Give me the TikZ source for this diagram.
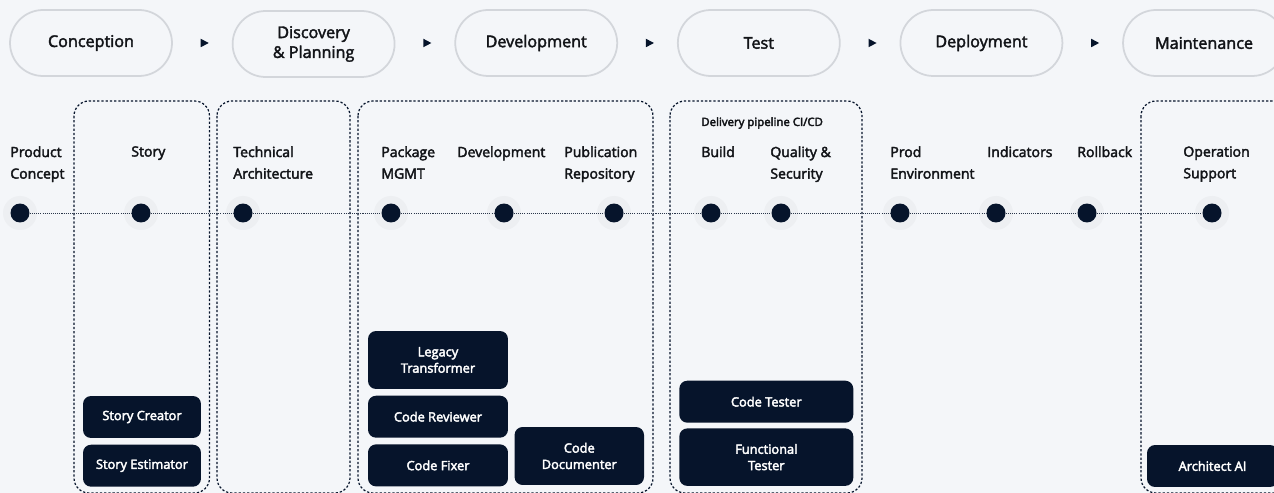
\documentclass[tikz,border=0pt]{standalone}
\usepackage{fontspec}
\setmainfont{Open Sans}
\usepackage{tikz}
\usetikzlibrary{shapes.geometric, positioning}

\definecolor{bg}{HTML}{F4F6F9}
\definecolor{rim}{HTML}{D3D6DB}
\definecolor{ink}{HTML}{06142B}
\definecolor{haze}{HTML}{EDEFF2}
\definecolor{txt}{HTML}{121418}

% slightly heavier strokes for the regular face
\tikzset{medium/.style={execute at begin node={\special{pdf:literal direct 2 Tr 0.22 w}}, execute at end node={\special{pdf:literal direct 0 Tr}}}}

\tikzstyle{stage} = [rectangle, rounded corners=0.66cm, draw=rim, line width=1pt, fill=bg, minimum width=3.24cm, minimum height=1.32cm, text centered, align=center, text=txt, medium, font=\fontsize{9.2}{11.3}\selectfont]
\tikzstyle{tri} = [isosceles triangle, isosceles triangle stretches, fill=ink, inner sep=0, minimum width=0.17cm, minimum height=0.16cm]
\tikzstyle{milestone} = [circle, fill=ink, inner sep=0, minimum size=0.38cm]
\tikzstyle{timeline} = [draw=ink!85, line width=0.5pt, dash pattern=on 0.6pt off 0.6pt]
\tikzstyle{steplabel} = [anchor=north west, inner sep=0, align=left, text=txt, medium, font=\fontsize{8}{12.3}\selectfont]
\tikzstyle{pipenote} = [anchor=west, inner sep=0, text=txt, medium, font=\fontsize{6.5}{8}\selectfont]
\tikzstyle{phasebox} = [draw=ink, line width=0.7pt, dash pattern=on 1.3pt off 1.1pt, rounded corners=0.3cm]
\tikzstyle{agent} = [rectangle, rounded corners=0.16cm, fill=ink, text=white, align=center, minimum height=0.84cm, medium, font=\fontsize{7.3}{9.3}\selectfont]

\begin{document}
\begin{tikzpicture}[x=0.02cm, y=-0.02cm, node distance=4.453cm]

        \useasboundingbox (0,0) rectangle (1274,493);
        \clip (0,0) rectangle (1274,493);
        \fill[bg] (0,0) rectangle (1274,493);

        % Phases
        \node (concep) [stage] at (91,43) {Conception};
        \node (discov) [stage, right of=concep, yshift=-0.02cm] {Discovery\\\& Planning};
        \node (devel) [stage, right of=concep, node distance=8.906cm] {Development};
        \node (test) [stage, right of=devel] {Test};
        \node (deploy) [stage, right of=test] {Deployment};
        \node (maint) [stage, right of=deploy] {Maintenance};

        % Markers between phases
        \node (a1) [tri, right of=concep, node distance=2.246cm] {};
        \node (a2) [tri, right of=a1] {};
        \node (a3) [tri, right of=a2] {};
        \node (a4) [tri, right of=a3] {};
        \node (a5) [tri, right of=a4] {};

        % Dotted groups
        \draw[phasebox] (74,101) rectangle (209.5,493);
        \draw[phasebox] (217,101) rectangle (350,493);
        \draw[phasebox] (358,101) rectangle (653,493);
        \draw[phasebox] (670,101) rectangle (862,493);
        \draw[phasebox] (1141,101) rectangle (1300,493);

        % Steps on the timeline
        \foreach \n/\x in {1/20, 2/141, 3/243, 4/391, 5/504, 6/614, 7/711, 8/781, 9/900, 10/996, 11/1087, 12/1212} {
            \fill[haze] (\x,213) circle [radius=17];
            \node (s\n) [milestone] at (\x,213) {};
        }
        \draw[timeline] (s1) -- (s2) -- (s3) -- (s4) -- (s5) -- (s6) -- (s7) -- (s8) -- (s9) -- (s10) -- (s11) -- (s12);

        % Step labels
        \node (lprod) [steplabel] at (10,146) {Product\\Concept};
        \node (lstory) [steplabel] at (131,146) {Story};
        \node (larch) [steplabel] at (233,146) {Technical\\Architecture};
        \node (lpack) [steplabel] at (381,146) {Package\\MGMT};
        \node (ldev) [steplabel] at (457,146) {Development};
        \node (lpub) [steplabel] at (564,146) {Publication\\Repository};
        \node (lbuild) [steplabel] at (701,146) {Build};
        \node (lqual) [steplabel] at (770,146) {Quality \&\\Security};
        \node (lenv) [steplabel] at (890,146) {Prod\\Environment};
        \node (lind) [steplabel] at (987,146) {Indicators};
        \node (lroll) [steplabel] at (1077,146) {Rollback};
        \node (lops) [steplabel] at (1183,146) {Operation\\Support};
        \node (cicd) [pipenote] at (701,123) {Delivery pipeline CI/CD};

        % Agents
        \node (screator) [agent, minimum width=2.36cm] at (142,417) {Story Creator};
        \node (sestim) [agent, minimum width=2.36cm, below=0.12cm of screator] {Story Estimator};
        \node (legacy) [agent, minimum width=2.8cm, minimum height=1.16cm] at (438,360) {Legacy\\Transformer};
        \node (review) [agent, minimum width=2.8cm, below=0.12cm of legacy] {Code Reviewer};
        \node (fixer) [agent, minimum width=2.8cm, below=0.12cm of review] {Code Fixer};
        \node (docu) [agent, minimum width=2.59cm, minimum height=1.16cm] at (579.3,456) {Code\\Documenter};
        \node (ctester) [agent, minimum width=3.48cm] at (766.3,401.7) {Code Tester};
        \node (ftester) [agent, minimum width=3.48cm, minimum height=1.15cm, below=0.1cm of ctester] {Functional\\Tester};
        \node (archai) [agent, minimum width=2.62cm] at (1212.5,466) {Architect AI};

\end{tikzpicture}
\end{document}
